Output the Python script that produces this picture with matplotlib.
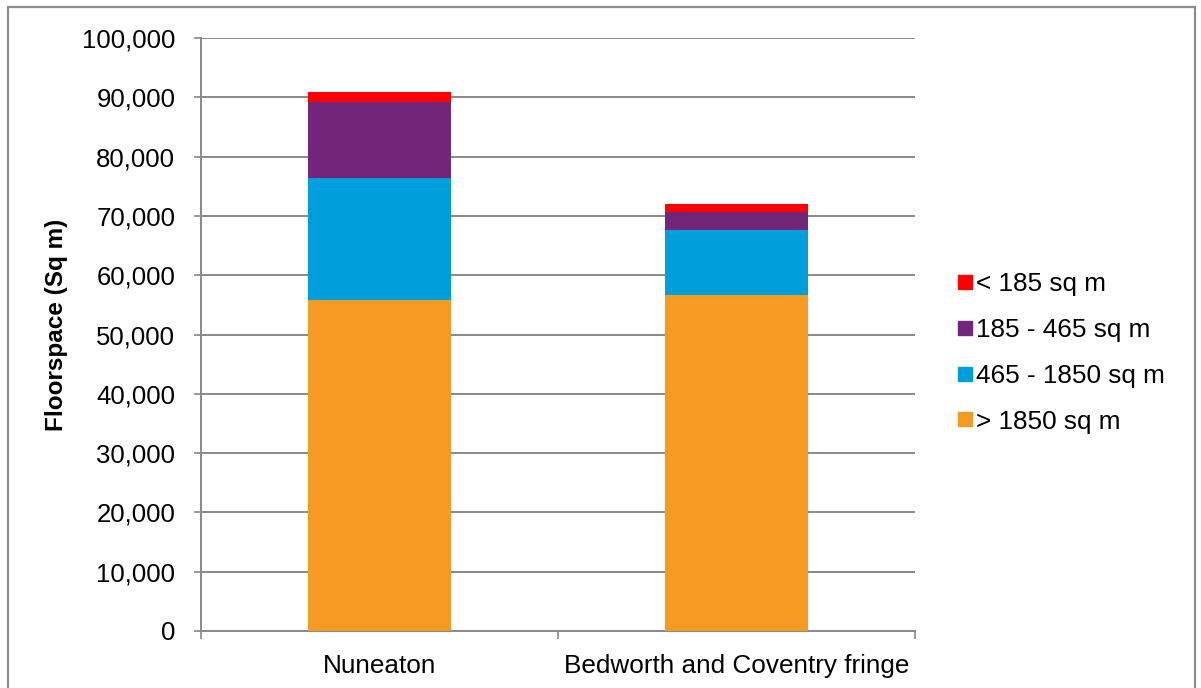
import matplotlib
matplotlib.use("Agg")
import matplotlib.pyplot as plt
from matplotlib.patches import Rectangle
from matplotlib.lines import Line2D
from matplotlib.ticker import FuncFormatter, FixedLocator

plt.rcParams['font.family'] = ['Liberation Sans', 'DejaVu Sans']

categories = ["Nuneaton", "Bedworth and Coventry fringe"]
series_names = ["> 1850 sq m", "465 - 1850 sq m", "185 - 465 sq m", "< 185 sq m"]
over_1850 = [55900, 56730]
s465_1850 = [20430, 10900]
s185_465 = [12800, 3070]
under_185 = [1780, 1250]
colors = ["#F59A23", "#009EDB", "#72267A", "#FF0000"]

series = [over_1850, s465_1850, s185_465, under_185]
FS = 18.8

fig = plt.figure(figsize=(12.01, 6.88), dpi=100)
ax = fig.add_axes([201 / 1201, 57 / 688, 714 / 1201, 593 / 688])

grid_c = "#898989"
x = list(range(len(categories)))
bottom = [0] * len(categories)
for vals, c, name in zip(series, colors, series_names):
    ax.bar(x, vals, width=0.4, bottom=bottom, color=c, label=name, zorder=3,
           linewidth=0)
    bottom = [b + v for b, v in zip(bottom, vals)]

ax.set_xlim(-0.5, 1.5)
ax.set_ylim(0, 100000)
ax.set_yticks(range(0, 100001, 10000))
ax.yaxis.set_major_formatter(FuncFormatter(lambda v, p: f"{int(v):,}"))
ax.grid(axis="y", color=grid_c, linewidth=1.4, zorder=0)
ax.set_axisbelow(True)

ax.set_xticks(x)
ax.set_xticklabels(categories)
ax.xaxis.set_minor_locator(FixedLocator([-0.5, 0.5, 1.5]))
ax.tick_params(axis="x", which="major", length=0, pad=16.5, labelsize=FS)
ax.tick_params(axis="x", which="minor", length=5.5, width=1.2, color=grid_c)
ax.tick_params(axis="y", length=5, width=1.2, color=grid_c, pad=13.5,
               labelsize=18.5)

for s in ["top", "right"]:
    ax.spines[s].set_visible(False)
for s in ["left", "bottom"]:
    ax.spines[s].set_color(grid_c)
    ax.spines[s].set_linewidth(1.4)

fig.text(57 / 1201, 1 - 325 / 688, "Floorspace (Sq m)", rotation=90,
         ha="center", va="center", fontsize=17.5, fontweight="bold")

handles = [Line2D([], [], marker="s", linestyle="none", markersize=10,
                  markerfacecolor=c, markeredgecolor=c) for c in colors]
leg = fig.legend(handles[::-1], series_names[::-1], loc="center left",
                 bbox_to_anchor=(958 / 1201, 1 - 353 / 688), frameon=False,
                 fontsize=FS, handlelength=0.5, handletextpad=0.2,
                 labelspacing=0.83, borderaxespad=0, borderpad=0)

fig.add_artist(Rectangle((8 / 1201, -0.02), 1187 / 1201, 1.02 - 7 / 688,
                         transform=fig.transFigure, fill=False,
                         edgecolor="#8C8C8C", linewidth=1.6))

fig.savefig("out.png", dpi=100)
